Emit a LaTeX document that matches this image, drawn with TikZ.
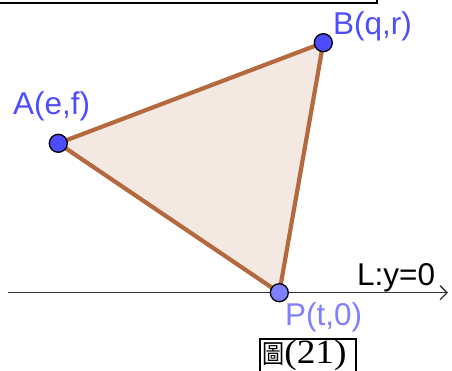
\documentclass[tikz,border=0pt]{standalone}
\usepackage{fontspec}
\setmainfont{Liberation Serif}
\setsansfont{Liberation Sans}
\newfontfamily\cjk{Noto Sans CJK TC}
\usetikzlibrary{arrows.meta}
\definecolor{ggblue}{HTML}{4D4DFF}
\definecolor{gglight}{HTML}{7F7FFF}
\definecolor{ggbrown}{HTML}{B5693F}
\tikzset{
  pt/.style={circle,draw=black,line width=1.3pt,minimum size=18pt,inner sep=0pt},
  lab/.style={anchor=base west,inner sep=0pt,font=\sffamily\fontsize{31.5}{31.5}\selectfont},
  edge/.style={draw=ggbrown,line width=4.2pt,line cap=round,line join=round},
}
\begin{document}
\begin{tikzpicture}[x=1pt,y=-1pt]
\useasboundingbox (0,0) rectangle (452,371);
\begin{scope}
\clip (0,0) rectangle (452,371);
\draw[line width=1.6pt] (-10,-10) rectangle (377,3);
\draw[line width=1.5pt] (260,339) rectangle (356,380);
\end{scope}
\coordinate (L0) at (8,292.7);
\coordinate (L1) at (448,292.7);
\draw[line width=1.5pt,draw=black!80,-{Straight Barb[length=7pt,width=14pt,line width=1.3pt]}] (L0) -- (L1);
\coordinate (Ac) at (58.3,143.3);
\coordinate (Bc) at (323.3,42.7);
\coordinate (Pc) at (279.3,292.7);
\fill[ggbrown,opacity=0.15] (Ac) -- (Bc) -- (Pc) -- cycle;
\draw[edge] (Ac) -- (Bc) -- (Pc) -- cycle;
\node[pt,fill=ggblue] (A) at (Ac) {};
\node[pt,fill=ggblue] (B) at (Bc) {};
\node[pt,fill=gglight] (P) at (Pc) {};
\node[lab,text=ggblue] (la) at (13,115) {A(e,f)};
\node[lab,text=ggblue] (lb) at (333,35) {B(q,r)};
\node[lab,text=black] (ll) at (357,285) {L:y=0};
\node[lab,text=gglight] (lp) at (285,325) {P(t,0)};
\node[anchor=base west,inner sep=0pt] (cap) at (262,363) {\scalebox{0.85}[1]{\cjk\fontsize{26}{26}\selectfont 圖}\scalebox{1.1}[1]{\fontsize{34}{34}\selectfont(21)}};
\end{tikzpicture}
\end{document}
